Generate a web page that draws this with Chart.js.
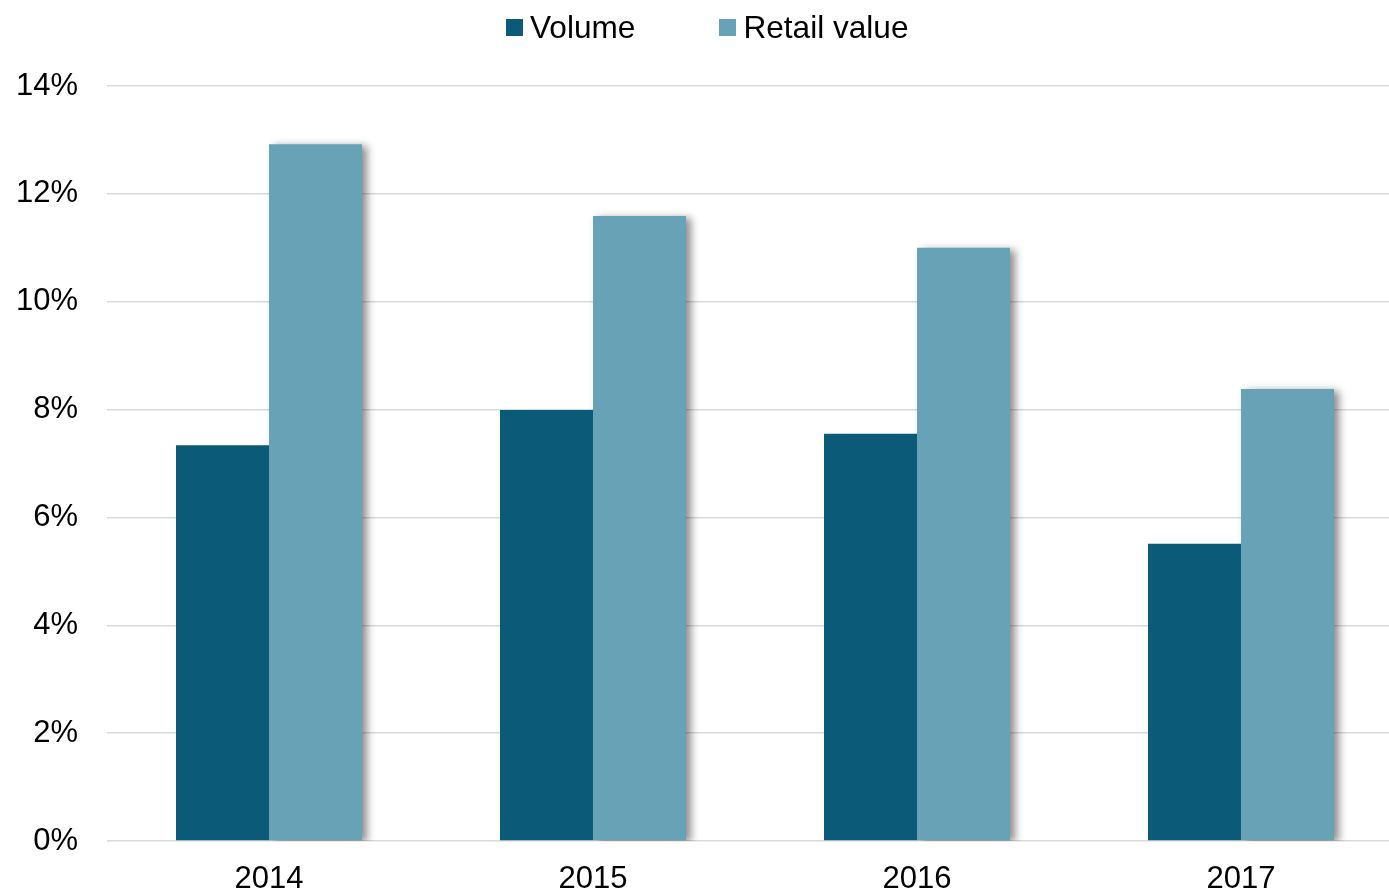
<!DOCTYPE html>
<html>
<head>
<meta charset="utf-8">
<script src="https://cdn.jsdelivr.net/npm/chart.js@4.4.1/dist/chart.umd.min.js"></script>
<style>
    html, body { margin: 0; padding: 0; background: #fff; overflow: hidden; }
    #wrap { position: relative; width: 1403px; height: 892px; }
    #legend {
        position: absolute; left: 506px; top: 8px; height: 38px;
        display: flex; align-items: center;
        font-family: "Liberation Sans", Arial, sans-serif; font-size: 31.6px; color: #000;
    }
    .item { display: flex; align-items: center; margin-right: 84px; }
    .box { width: 17px; height: 17px; margin-right: 7px; }
</style>
</head>
<body>
<div id="wrap">
    <canvas id="chart" width="1403" height="892"></canvas>
    <div id="legend"></div>
</div>
<script>
const years = ['2014', '2015', '2016', '2017'];
const volume = [7.34, 7.99, 7.55, 5.51];
const retailValue = [12.92, 11.59, 11.0, 8.38];
const seriesNames = ['Volume', 'Retail value'];
const seriesColors = ['#0b5a77', '#67a2b6'];

// soft drop shadow, only on the front (retail value) bars
const shadowPlugin = {
    id: 'barShadow',
    beforeDatasetDraw(chart, args) {
        const ctx = chart.ctx;
        ctx.save();
        if (args.index === 1) {
            ctx.shadowColor = 'rgba(0,0,0,0.45)';
            ctx.shadowBlur = 8;
            ctx.shadowOffsetX = 5;
            ctx.shadowOffsetY = 2;
        }
    },
    afterDatasetDraw(chart) {
        chart.ctx.restore();
    }
};

const font = { family: '"Liberation Sans", Arial, sans-serif', size: 31 };

const chart = new Chart(document.getElementById('chart'), {
    type: 'bar',
    data: {
        labels: years,
        datasets: [
            { label: seriesNames[0], data: volume, backgroundColor: seriesColors[0] },
            { label: seriesNames[1], data: retailValue, backgroundColor: seriesColors[1] }
        ]
    },
    options: {
        responsive: false,
        animation: false,
        categoryPercentage: 0.574,
        barPercentage: 1,
        layout: { padding: { left: 16, right: 0, top: 86, bottom: 0 } },
        plugins: {
            legend: { display: false },
            tooltip: { enabled: false }
        },
        scales: {
            x: {
                grid: { display: false },
                border: { display: false },
                ticks: { color: '#000', font: font, padding: 12 },
                afterFit: (scale) => { scale.height = 51; }
            },
            y: {
                min: 0,
                max: 14,
                grid: { color: '#d9d9d9', lineWidth: 1.5, drawTicks: false },
                border: { display: false },
                ticks: {
                    stepSize: 2,
                    color: '#000',
                    font: font,
                    padding: 29,
                    callback: (v) => v + '%'
                },
                afterFit: (scale) => { scale.width = 91; }
            }
        }
    },
    plugins: [shadowPlugin]
});

const legend = document.getElementById('legend');
chart.data.datasets.forEach((ds) => {
    const item = document.createElement('div');
    item.className = 'item';
    const box = document.createElement('div');
    box.className = 'box';
    box.style.background = ds.backgroundColor;
    const text = document.createElement('span');
    text.textContent = ds.label;
    item.appendChild(box);
    item.appendChild(text);
    legend.appendChild(item);
});
</script>
</body>
</html>
